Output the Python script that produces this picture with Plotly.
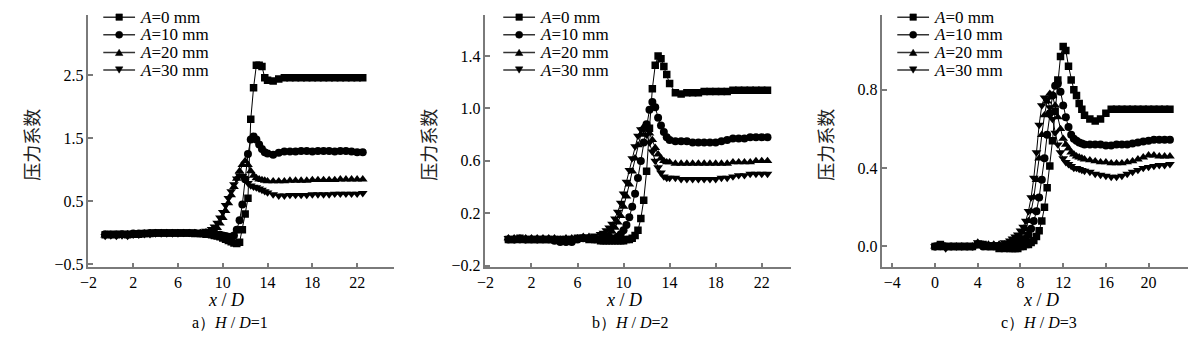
import plotly.graph_objects as go

# ---------------- data ----------------
LEGEND_LABELS = ["<i>A</i>=0 mm", "<i>A</i>=10 mm", "<i>A</i>=20 mm", "<i>A</i>=30 mm"]
PANEL_TITLES = ["a）<i>H</i> / <i>D</i>=1", "b）<i>H</i> / <i>D</i>=2", "c）<i>H</i> / <i>D</i>=3"]
Y_TITLE = "压力系数"
X_TITLE = "<i>x</i> / <i>D</i>"

# panel a : H/D = 1
XA = [-0.5, 0.0, 0.5, 1.0, 1.5, 2.0, 2.5, 3.0, 3.5, 4.0, 4.5, 5.0, 5.5, 6.0, 6.5, 7.0, 7.5, 8.0, 8.5, 9.0,
      9.25, 9.5, 9.75, 10.0, 10.25, 10.5, 10.75, 11.0, 11.25, 11.5, 11.75, 12.0, 12.25, 12.5, 12.75, 13.0,
      13.25, 13.5, 13.75, 14.0,
      14.5, 15.0, 15.5, 16.0, 16.5, 17.0, 17.5, 18.0, 18.5, 19.0, 19.5, 20.0, 20.5, 21.0, 21.5, 22.0, 22.5]
A0_a = [-0.03, -0.02, -0.03, -0.02, -0.03, -0.02, -0.02, -0.01, -0.01, 0.0, 0.0, 0.0, 0.0, 0.0, 0.0, 0.0, -0.01, -0.01, -0.02, -0.03,
        -0.04, -0.05, -0.06, -0.08, -0.10, -0.12, -0.14, -0.16, -0.17, -0.15, 0.05, 0.30, 0.55, 1.80, 2.30, 2.66, 2.66, 2.64, 2.46, 2.42,
        2.41, 2.44, 2.46, 2.46, 2.46, 2.46, 2.46, 2.46, 2.46, 2.46, 2.46, 2.46, 2.46, 2.46, 2.46, 2.46, 2.46]
A10_a = [-0.02, -0.03, -0.02, -0.02, -0.02, -0.01, -0.01, -0.01, 0.0, 0.0, 0.0, 0.0, 0.0, 0.0, 0.0, 0.0, 0.0, -0.01, -0.01, -0.02,
         -0.02, -0.03, -0.03, -0.04, -0.05, -0.06, -0.06, -0.04, 0.05, 0.20, 0.45, 0.85, 1.25, 1.48, 1.53, 1.48, 1.40, 1.33, 1.28, 1.26,
         1.24, 1.27, 1.29, 1.29, 1.29, 1.30, 1.30, 1.29, 1.30, 1.30, 1.30, 1.29, 1.30, 1.30, 1.29, 1.28, 1.28]
A20_a = [-0.04, -0.03, -0.04, -0.03, -0.02, -0.02, -0.02, -0.01, -0.01, 0.0, 0.0, 0.0, 0.0, 0.0, 0.0, 0.0, 0.0, 0.0, 0.01, 0.02,
         0.04, 0.08, 0.15, 0.24, 0.35, 0.47, 0.60, 0.73, 0.86, 0.98, 1.08, 1.14, 1.08, 0.98, 0.91, 0.87, 0.85, 0.84, 0.83, 0.82,
         0.82, 0.82, 0.82, 0.83, 0.83, 0.83, 0.83, 0.84, 0.84, 0.84, 0.84, 0.84, 0.85, 0.85, 0.85, 0.85, 0.85]
A30_a = [-0.05, -0.04, -0.05, -0.04, -0.05, -0.03, -0.03, -0.02, -0.02, -0.01, -0.01, -0.01, -0.01, -0.01, 0.0, 0.0, 0.0, 0.01, 0.03, 0.06,
         0.10, 0.16, 0.24, 0.33, 0.44, 0.55, 0.66, 0.77, 0.86, 0.91, 0.90, 0.85, 0.79, 0.75, 0.73, 0.72, 0.70, 0.68, 0.66, 0.64,
         0.61, 0.59, 0.59, 0.60, 0.60, 0.60, 0.60, 0.61, 0.61, 0.61, 0.61, 0.62, 0.62, 0.62, 0.62, 0.62, 0.63]

# panel b : H/D = 2
XB = [0.0, 0.5, 1.0, 1.5, 2.0, 2.5, 3.0, 3.5, 4.0, 4.5, 5.0, 5.5, 6.0, 6.5, 7.0, 7.5, 8.0,
      8.25, 8.5, 8.75, 9.0, 9.25, 9.5, 9.75, 10.0, 10.25, 10.5, 10.75, 11.0, 11.25, 11.5, 11.75, 12.0,
      12.25, 12.5, 12.75, 13.0, 13.25, 13.5, 13.75, 14.0,
      14.5, 15.0, 15.5, 16.0, 16.5, 17.0, 17.5, 18.0, 18.5, 19.0, 19.5, 20.0, 20.5, 21.0, 21.5, 22.0, 22.5]
A0_b = [0.0, 0.0, 0.01, 0.0, 0.0, 0.0, 0.0, 0.0, 0.0, 0.0, 0.0, 0.0, 0.01, 0.01, 0.0, 0.0, -0.01,
        -0.01, -0.01, -0.01, -0.01, -0.01, -0.01, -0.01, -0.01, 0.0, 0.0, 0.01, 0.03, 0.07, 0.16, 0.30, 0.52,
        0.85, 1.15, 1.33, 1.40, 1.38, 1.32, 1.26, 1.19,
        1.12, 1.11, 1.12, 1.12, 1.12, 1.13, 1.13, 1.13, 1.13, 1.13, 1.14, 1.14, 1.14, 1.14, 1.14, 1.14, 1.14]
A10_b = [0.0, 0.0, 0.0, 0.0, 0.0, 0.0, 0.0, 0.0, -0.01, -0.02, -0.02, -0.02, 0.0, 0.01, 0.01, 0.0, 0.0,
         0.0, 0.0, 0.0, 0.0, 0.01, 0.02, 0.04, 0.07, 0.11, 0.17, 0.25, 0.35, 0.47, 0.60, 0.74, 0.88,
         0.99, 1.05, 1.01, 0.93, 0.87, 0.82, 0.78, 0.76,
         0.75, 0.75, 0.75, 0.74, 0.74, 0.74, 0.74, 0.74, 0.75, 0.76, 0.77, 0.77, 0.77, 0.78, 0.78, 0.78, 0.78]
A20_b = [0.01, 0.01, 0.01, 0.01, 0.01, 0.01, 0.01, 0.01, 0.01, 0.0, 0.01, 0.01, 0.01, 0.02, 0.02, 0.01, 0.02,
         0.02, 0.03, 0.04, 0.06, 0.09, 0.13, 0.18, 0.25, 0.33, 0.42, 0.52, 0.62, 0.72, 0.80, 0.86, 0.86,
         0.81, 0.76, 0.70, 0.65, 0.62, 0.60, 0.59, 0.59,
         0.58, 0.58, 0.58, 0.58, 0.58, 0.58, 0.58, 0.58, 0.58, 0.58, 0.59, 0.59, 0.59, 0.59, 0.60, 0.60, 0.60]
A30_b = [0.01, 0.0, 0.01, 0.0, 0.01, 0.0, 0.01, 0.01, 0.0, 0.01, 0.01, 0.01, 0.01, 0.02, 0.02, 0.03, 0.04,
         0.05, 0.07, 0.09, 0.12, 0.16, 0.21, 0.28, 0.35, 0.44, 0.53, 0.62, 0.71, 0.79, 0.84, 0.84, 0.80,
         0.74, 0.67, 0.60, 0.55, 0.51, 0.48, 0.47, 0.47,
         0.47, 0.46, 0.46, 0.46, 0.46, 0.46, 0.46, 0.46, 0.47, 0.47, 0.48, 0.49, 0.49, 0.50, 0.50, 0.50, 0.50]

# panel c : H/D = 3
XC = [0.0, 0.5, 1.0, 1.5, 2.0, 2.5, 3.0, 3.5, 4.0, 4.5, 5.0, 5.5, 6.0, 6.5, 7.0,
      7.25, 7.5, 7.75, 8.0, 8.25, 8.5, 8.75, 9.0, 9.25, 9.5, 9.75, 10.0, 10.25, 10.5, 10.75, 11.0,
      11.25, 11.5, 11.75, 12.0, 12.25, 12.5, 12.75, 13.0, 13.25, 13.5, 13.75, 14.0,
      14.5, 15.0, 15.5, 16.0, 16.5, 17.0, 17.5, 18.0, 18.5, 19.0, 19.5, 20.0, 20.5, 21.0, 21.5, 22.0]
A0_c = [0.0, 0.01, 0.0, 0.0, 0.0, 0.0, 0.0, 0.0, 0.01, 0.01, 0.0, 0.0, -0.01, -0.01, -0.01,
        -0.01, -0.01, -0.01, 0.0, 0.0, 0.01, 0.01, 0.02, 0.03, 0.05, 0.08, 0.13, 0.20, 0.30, 0.41, 0.54,
        0.69, 0.85, 0.97, 1.02, 1.00, 0.92, 0.85, 0.80, 0.77, 0.73, 0.70, 0.67,
        0.65, 0.64, 0.65, 0.68, 0.70, 0.70, 0.70, 0.70, 0.70, 0.70, 0.70, 0.70, 0.70, 0.70, 0.70, 0.70]
A10_c = [0.0, 0.0, 0.0, 0.0, 0.0, 0.0, 0.0, 0.0, 0.01, 0.0, 0.0, 0.0, 0.0, 0.0, 0.0,
         0.0, 0.01, 0.01, 0.02, 0.03, 0.04, 0.06, 0.09, 0.13, 0.18, 0.25, 0.34, 0.45, 0.57, 0.68, 0.77,
         0.82, 0.83, 0.79, 0.72, 0.66, 0.61, 0.57, 0.55, 0.54, 0.53, 0.525, 0.52,
         0.52, 0.52, 0.52, 0.515, 0.515, 0.52, 0.52, 0.52, 0.525, 0.53, 0.535, 0.54, 0.545, 0.545, 0.545, 0.545]
A20_c = [0.0, 0.0, 0.0, 0.0, 0.0, 0.0, 0.0, 0.0, 0.02, 0.01, 0.01, 0.01, 0.01, 0.01, 0.02,
         0.02, 0.03, 0.04, 0.05, 0.07, 0.09, 0.13, 0.18, 0.25, 0.34, 0.45, 0.57, 0.67, 0.74, 0.78, 0.77,
         0.72, 0.66, 0.60, 0.55, 0.52, 0.50, 0.48, 0.47, 0.46, 0.455, 0.45, 0.445,
         0.44, 0.435, 0.43, 0.43, 0.425, 0.425, 0.425, 0.43, 0.435, 0.445, 0.455, 0.465, 0.465, 0.46, 0.46, 0.46]
A30_c = [0.0, 0.01, -0.01, 0.0, 0.0, 0.0, 0.0, 0.0, 0.02, 0.01, 0.01, 0.01, 0.01, 0.02, 0.03,
         0.04, 0.05, 0.06, 0.08, 0.10, 0.13, 0.18, 0.25, 0.35, 0.48, 0.62, 0.72, 0.76, 0.75, 0.71, 0.65,
         0.58, 0.52, 0.48, 0.45, 0.43, 0.42, 0.41, 0.40, 0.40, 0.395, 0.39, 0.385,
         0.38, 0.37, 0.365, 0.36, 0.355, 0.355, 0.36, 0.37, 0.38, 0.39, 0.40, 0.405, 0.41, 0.415, 0.415, 0.42]

XTICKS_A = [-2, 2, 6, 10, 14, 18, 22]
YTICKS_A = [-0.5, 0.5, 1.5, 2.5]
XTICKS_B = [-2, 2, 6, 10, 14, 18, 22]
YTICKS_B = [-0.2, 0.2, 0.6, 1.0, 1.4]
XTICKS_C = [-4, 0, 4, 8, 12, 16, 20]
YTICKS_C = [0.0, 0.4, 0.8]

# ---------------- figure ----------------
W, H = 1200, 340
SERIF = "Liberation Serif, Times New Roman, serif"
CJK = "Noto Sans CJK SC"
AXC = "#7a7a7a"


def px_x(p):
    return p / W


def px_y(p):
    return 1 - p / H


panels = [
    dict(x=XA, ys=[A0_a, A10_a, A20_a, A30_a], xr=[-2, 25.3], yr=[-0.547, 3.46],
         xt=XTICKS_A, yt=YTICKS_A, left=80, right=388, leg_off=0,
         xtitle_x=219, sub_x=223, ytitle_x=22),
    dict(x=XB, ys=[A0_b, A10_b, A20_b, A30_b], xr=[-2, 24.55], yr=[-0.213, 1.716],
         xt=XTICKS_B, yt=YTICKS_B, left=480, right=788, leg_off=3,
         xtitle_x=620, sub_x=626, ytitle_x=422),
    dict(x=XC, ys=[A0_c, A10_c, A20_c, A30_c], xr=[-4.93, 23.7], yr=[-0.107, 1.183],
         xt=XTICKS_C, yt=YTICKS_C, left=880, right=1188, leg_off=0,
         xtitle_x=1040, sub_x=1038, ytitle_x=822),
]
symbols = ["square", "circle", "triangle-up", "triangle-down"]
MSIZES = [7.5, 8, 8.5, 8.5]

fig = go.Figure()
layout = dict(
    width=W, height=H, margin=dict(l=0, r=0, t=0, b=0),
    paper_bgcolor="white", plot_bgcolor="white",
    font=dict(family=SERIF, size=16, color="black"),
    showlegend=False,
    annotations=[], shapes=[],
)

top, bottom = 15, 273
LEG_ROWS = [17.5, 35.5, 53.5, 71.5]


def legend_key(kind, cx, cy):
    """Legend sample marker drawn as a layout shape (pixel -> paper)."""
    s = 3.3
    base = dict(xref="paper", yref="paper", fillcolor="black", line=dict(color="black", width=0.5))
    if kind == "square":
        return dict(type="rect", x0=px_x(cx - s), x1=px_x(cx + s), y0=px_y(cy + s), y1=px_y(cy - s), **base)
    if kind == "circle":
        r = 3.6
        return dict(type="circle", x0=px_x(cx - r), x1=px_x(cx + r), y0=px_y(cy + r), y1=px_y(cy - r), **base)
    t = 3.8
    if kind == "triangle-up":
        pts = [(cx - t, cy + t * 0.85), (cx + t, cy + t * 0.85), (cx, cy - t * 0.85)]
    else:
        pts = [(cx - t, cy - t * 0.85), (cx + t, cy - t * 0.85), (cx, cy + t * 0.85)]
    path = "M " + " L ".join(f"{px_x(a):.6f},{px_y(b):.6f}" for a, b in pts) + " Z"
    return dict(type="path", path=path, **base)


for i, p in enumerate(panels):
    sfx = "" if i == 0 else str(i + 1)
    for j, ys in enumerate(p["ys"]):
        fig.add_trace(go.Scatter(
            x=p["x"], y=ys, mode="lines+markers", name=LEGEND_LABELS[j],
            xaxis="x" + sfx, yaxis="y" + sfx,
            line=dict(color="black", width=1),
            marker=dict(symbol=symbols[j], size=MSIZES[j], color="black", line=dict(width=0)),
        ))
    ax_common = dict(showline=True, linecolor=AXC, linewidth=1.5, ticks="inside",
                     ticklen=5, tickcolor=AXC, tickwidth=1.5, showgrid=False,
                     zeroline=False, tickfont=dict(family=SERIF, size=16, color="black"))
    layout["xaxis" + sfx] = dict(domain=[px_x(p["left"]), px_x(p["right"])], range=p["xr"],
                                 tickvals=p["xt"], anchor="y" + sfx, **ax_common)
    layout["yaxis" + sfx] = dict(domain=[px_y(bottom), px_y(top)], range=p["yr"],
                                 tickvals=p["yt"], tickformat=".1f", anchor="x" + sfx,
                                 **ax_common)
    # legend (drawn manually so the row spacing matches)
    L = p["left"] + p["leg_off"]
    for j, cy in enumerate(LEG_ROWS):
        layout["shapes"].append(dict(type="line", xref="paper", yref="paper",
                                     x0=px_x(L + 15), x1=px_x(L + 47), y0=px_y(cy), y1=px_y(cy),
                                     line=dict(color="#333", width=1.5)))
        layout["shapes"].append(legend_key(symbols[j], L + 31, cy))
        layout["annotations"].append(dict(
            text=LEGEND_LABELS[j], x=px_x(L + 50), y=px_y(cy), xref="paper", yref="paper",
            xanchor="left", yanchor="middle", showarrow=False,
            font=dict(family=SERIF, size=17, color="black")))
    layout["annotations"] += [
        dict(text=Y_TITLE, x=px_x(p["ytitle_x"]), y=px_y(148), xref="paper", yref="paper",
             xanchor="center", yanchor="middle",
             showarrow=False, textangle=-90, font=dict(family=CJK, size=18, color="#222")),
        dict(text=X_TITLE, x=px_x(p["xtitle_x"]), y=px_y(306), xref="paper", yref="paper",
             xanchor="center", yanchor="middle",
             showarrow=False, font=dict(family=SERIF, size=18, color="black")),
        dict(text=PANEL_TITLES[i], x=px_x(p["sub_x"]), y=px_y(329), xref="paper", yref="paper",
             xanchor="center", yanchor="middle",
             showarrow=False, font=dict(family=SERIF, size=16, color="black")),
    ]

fig.update_layout(**layout)
fig.write_html("out.html", config={"displayModeBar": False},
               post_script="document.body.style.margin='0';")
